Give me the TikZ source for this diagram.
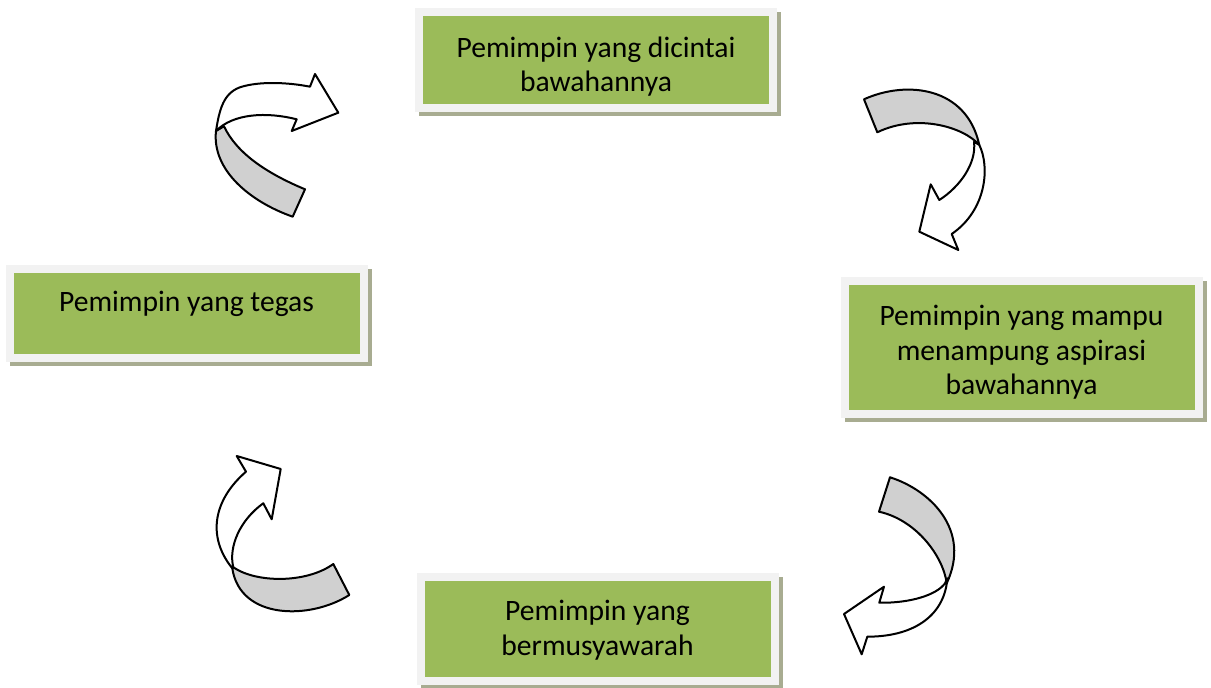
\documentclass[tikz,border=0pt]{standalone}
\usepackage{fontspec}
\setmainfont{Carlito}
\usetikzlibrary{shadows}
\definecolor{boxgreen}{RGB}{155,187,89}
\definecolor{framegray}{RGB}{242,242,242}
\definecolor{shadowgreen}{RGB}{168,172,145}
\definecolor{ribbongray}{RGB}{208,208,208}
\begin{document}
\begin{tikzpicture}[x=0.5pt, y=-0.5pt, line join=round,
  box/.style={rectangle, fill=framegray, minimum width=181pt, inner sep=0pt,
    align=center, font=\fontsize{14.8}{17.3}\selectfont,
    drop shadow={shadow xshift=2pt, shadow yshift=-2pt, fill=shadowgreen, opacity=1},
    path picture={\fill[boxgreen] ([shift={(4pt,-4pt)}]path picture bounding box.north west)
      rectangle ([shift={(-4pt,4pt)}]path picture bounding box.south east);}},
  back/.style={fill=ribbongray, draw=black, line width=1pt},
  front/.style={fill=white, draw=black, line width=1pt}]
  \useasboundingbox (0,0) rectangle (1211,688);
  % boxes
  \node[box, text height=41.9pt, text depth=10.1pt] (dicintai) at (596,60) {Pemimpin yang dicintai\\bawahannya};
  \node[box, text height=23.5pt, text depth=25pt] (tegas) at (186.5,313.5) {Pemimpin yang tegas};
  \node[box, text height=59pt, text depth=11.5pt] (aspirasi) at (1021.5,347.5) {Pemimpin yang mampu\\menampung aspirasi\\bawahannya};
  \node[box, text height=41.2pt, text depth=14.8pt] (musyawarah) at (597.5,629) {Pemimpin yang\\bermusyawarah};
  % top left arrow
  \draw[back] (292.7,216.7) .. controls (250,201.7) and (211.7,170) .. (216,131)
    -- (224,126.3) .. controls (236.7,153.3) and (266.7,173.3) .. (305,189.3) -- cycle;
  \draw[front] (216,131) .. controls (219.3,110) and (223.3,93.3) .. (240,87.3)
    .. controls (260,80.7) and (290,82.7) .. (310,86.7) -- (315,74) -- (338.3,112.7)
    -- (291.7,131) -- (296.7,119.3) .. controls (266.7,111.7) and (233.3,113.3) .. (216,131) -- cycle;
  % top right arrow
  \draw[back] (864,99.3) .. controls (906.7,80) and (966.7,86.7) .. (979.3,145)
    .. controls (963.3,126.7) and (916.7,113.3) .. (877.3,132.3) -- cycle;
  \draw[front] (979.3,145) .. controls (990,166.7) and (986.7,210) .. (951.7,234)
    -- (958.3,250) -- (919.3,231.7) -- (930.7,184.3) -- (939.3,200)
    .. controls (960,186.7) and (976.7,163.3) .. (974,141.7) -- cycle;
  % bottom right arrow
  \draw[back] (890,477.3) .. controls (930,490) and (971.7,530) .. (946.7,583.3)
    .. controls (943.3,556.7) and (916.7,520) .. (879,511.7) -- cycle;
  \draw[front] (947.3,578.3) .. controls (945,613.3) and (916.7,636.7) .. (867.3,636.7)
    -- (861.7,654.3) -- (844,614) -- (884,586.7) -- (879.3,602.7)
    .. controls (910,603.3) and (936.7,595) .. (945,583.3) -- cycle;
  % bottom left arrow
  \draw[back] (349.3,595) .. controls (310,620) and (240,620) .. (232.3,568.3)
    -- (233.3,567.3) .. controls (256.7,583.3) and (306.7,583.3) .. (333.3,564) -- cycle;
  \draw[front] (232.3,568.3) .. controls (206.7,536.7) and (213.3,500) .. (246,471.7)
    -- (236.7,456) -- (280.7,469) -- (271.7,519.3) -- (263.3,503.3)
    .. controls (240,520) and (228.3,546.7) .. (233.3,567.3) -- cycle;
\end{tikzpicture}
\end{document}
